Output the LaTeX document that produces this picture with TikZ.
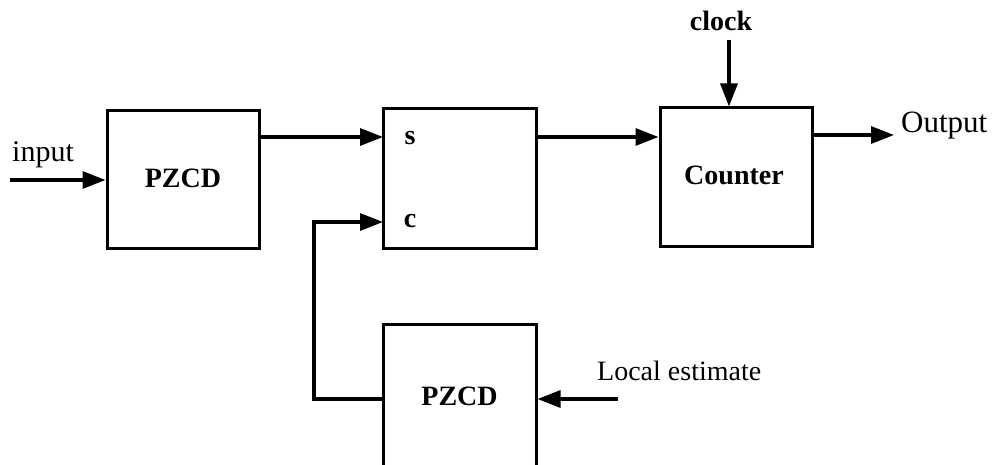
\documentclass[tikz,border=0pt]{standalone}
\usepackage{fontspec}
\setmainfont{Liberation Serif}
\usetikzlibrary{arrows.meta,calc}
\begin{document}
\begin{tikzpicture}[x=1pt,y=-1pt,
  blk/.style={draw,line width=3pt,minimum width=152pt,inner sep=0pt},
  conn/.style={line width=3.2pt,-{Triangle[length=23pt,width=17pt]}},
  lbl/.style={font=\fontsize{28}{32}\selectfont,inner sep=0pt},
  blbl/.style={font=\fontsize{28}{32}\selectfont\bfseries,inner sep=0pt}]
\useasboundingbox (0,0) rectangle (1004,465);
\clip (0,0) rectangle (1004,465);
% blocks
\node[blk,minimum height=138pt] (pz1) at (183,180) {};
\node[blk,minimum height=140pt,minimum width=153pt] (sel) at (459.5,179) {};
\node[blk,minimum height=139pt] (cnt) at (736,177.5) {};
\node[blk,minimum height=146pt,minimum width=153pt] (pz2) at (459.5,397) {};
% block texts
\node[blbl,anchor=base] (pz1t) at (183,188) {PZCD};
\node[blbl,anchor=base] (pz2t) at (459.5,405) {PZCD};
\node[blbl,anchor=base] (cntt) at (734,185) {Counter};
\node[blbl,anchor=base] (st) at (410,145) {s};
\node[blbl,anchor=base] (ct) at (410,228) {c};
% external labels
\node[lbl,anchor=base west,font=\fontsize{30}{34}\selectfont] (inl) at (12,162) {input};
\node[blbl,anchor=base] (clk) at (721,31) {clock};
\node[lbl,anchor=base west,font=\fontsize{31}{35}\selectfont] (outl) at (901,133) {Output};
\node[lbl,anchor=base west] (loc) at (597,380) {Local estimate};
% connector ends
\coordinate (inS) at (10,180);
\coordinate (sIn) at (383,137);
\coordinate (cIn) at (383,222);
\coordinate (clkS) at (729,40);
\coordinate (outE) at (894,135);
\coordinate (locS) at (618,399);
\coordinate (fbL) at (314,399);
% connectors
\draw[conn] (inS) -- (pz1.west |- inS);
\draw[conn] (pz1.east |- sIn) -- (sIn);
\draw[conn] (sel.east |- sIn) -- (cnt.west |- sIn);
\draw[conn] (clkS) -- (cnt.north -| clkS);
\draw[conn] (cnt.east |- outE) -- (outE);
\draw[conn] (locS) -- (pz2.east |- locS);
\draw[conn] (pz2.west |- fbL) -- (fbL) |- (cIn);
\end{tikzpicture}
\end{document}
